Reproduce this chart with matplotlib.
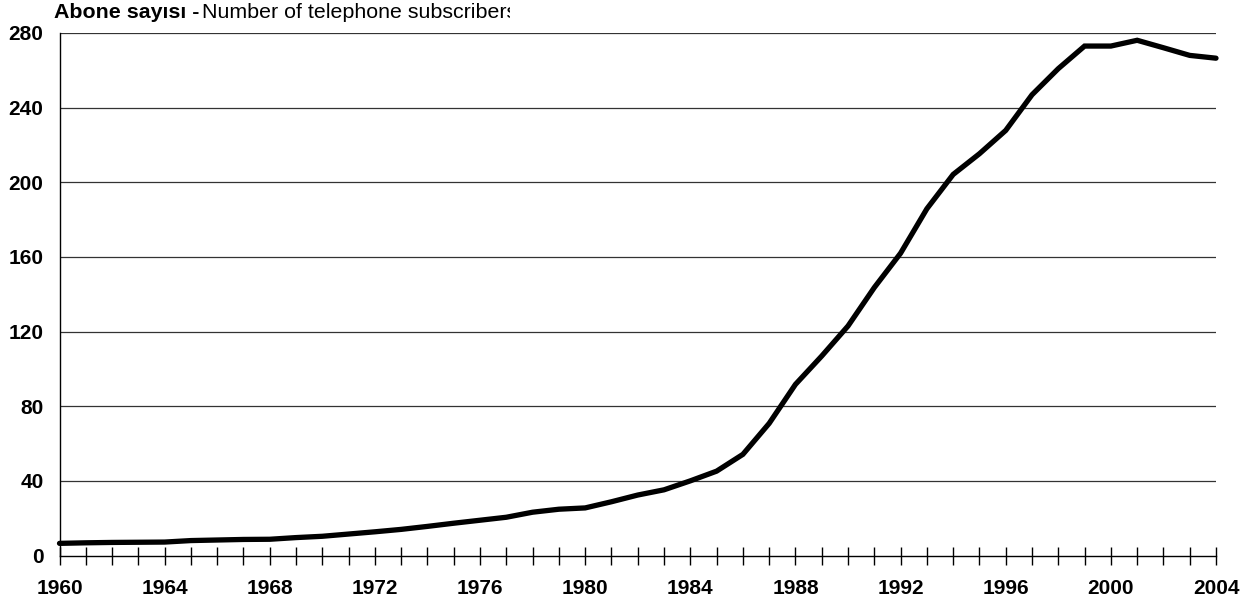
import numpy as np
import matplotlib.pyplot as plt
from matplotlib.transforms import Bbox

plt.rcParams['font.family'] = ['Liberation Sans', 'DejaVu Sans']

years = list(range(1960, 2005))
subscribers = [6.5, 6.8, 7.0, 7.1, 7.2, 8.0, 8.3, 8.6, 8.7, 9.6, 10.3, 11.5, 12.7, 14.0, 15.6,
               17.3, 18.9, 20.5, 23.2, 24.8, 25.5, 28.8, 32.4, 35.2, 40.0, 45.2, 54.2, 70.8,
               91.7, 106.9, 123.0, 143.6, 162.0, 185.8, 204.2, 215.3, 227.8, 246.9, 260.9,
               273.0, 273.0, 276.1, 272.1, 268.0, 266.5]
yticks = [0, 40, 80, 120, 160, 200, 240, 280]
xlabels = [1960, 1964, 1968, 1972, 1976, 1980, 1984, 1988, 1992, 1996, 2000, 2004]

fig = plt.figure(figsize=(12.58, 6.03), dpi=100)
ax = fig.add_axes([59.5/1258, 1-555.5/603, (1216-59.5)/1258, (555.5-33)/603])

# gridlines
for v in yticks[1:]:
    ax.axhline(v, color='#333333', lw=0.9, zorder=1)

ax.plot(years, subscribers, color='black', lw=3.8, solid_capstyle='round',
        solid_joinstyle='miter', zorder=3, clip_on=False)

ax.set_xlim(1960, 2004)
ax.set_ylim(0, 280)

for s in ['top', 'right']:
    ax.spines[s].set_visible(False)
ax.spines['left'].set_linewidth(1.0)
ax.spines['bottom'].set_linewidth(1.0)

ax.set_xticks(years)
ax.set_xticklabels([str(y) if y in xlabels else '' for y in years],
                   fontsize=15, fontweight='bold')
ax.tick_params(axis='x', direction='inout', length=13, width=1.0, pad=10.5)
ax.set_yticks(yticks)
ax.set_yticklabels([str(v) for v in yticks], fontsize=15, fontweight='bold')
ax.tick_params(axis='y', length=0, pad=11.5)

fig.text(54/1258, 1-12.5/603, 'Abone sayısı -', fontsize=15.4, fontweight='bold',
         ha='left', va='center')
t = fig.text(202/1258, 1-12.5/603, 'Number of telephone subscribers', fontsize=15.4,
             ha='left', va='center')
# title text is cut off at the right in the original
t.set_clip_box(Bbox.from_extents(0, 0, 510, 603))
t.set_clip_on(True)

fig.savefig('out.png', dpi=100)
